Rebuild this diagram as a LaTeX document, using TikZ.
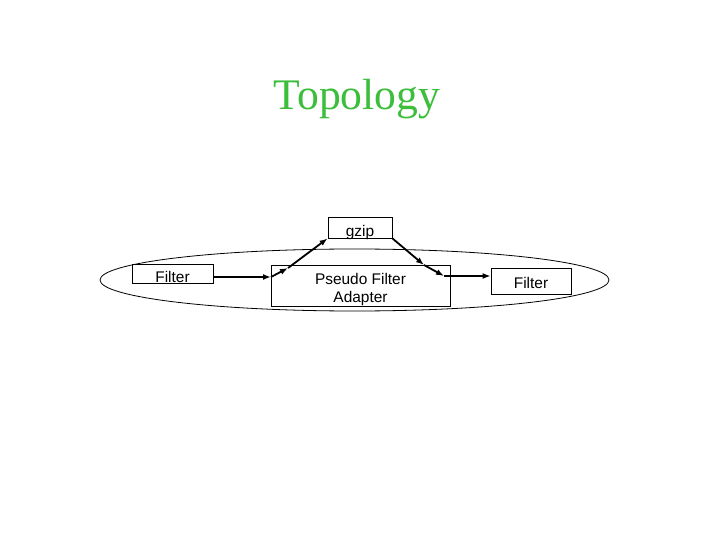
\documentclass[tikz,border=0pt]{standalone}
\usepackage{fontspec}
\setmainfont{Liberation Serif}
\setsansfont{Liberation Sans}
\usetikzlibrary{arrows.meta}
\definecolor{titlegreen}{RGB}{60,190,60}
\tikzset{
  box/.style={draw,line width=0.8bp,inner sep=0pt,align=center,text depth=0pt,font=\sffamily\fontsize{15.5}{18.5}\selectfont},
  flow/.style={line width=1.8bp,-{Latex[length=8bp,width=6bp]}}
}
\begin{document}
\begin{tikzpicture}[x=1bp,y=-1bp]
\useasboundingbox (0,0) rectangle (720,540);
\node[text=titlegreen,font=\fontsize{43.8}{50}\selectfont] (title) at (357,99) {Topology};
\draw[line width=0.8bp] (354.5,280) ellipse [x radius=254.5bp, y radius=31bp];
\node[box,minimum width=81bp,minimum height=19bp,text height=19bp] (src) at (172.5,273.5) {Filter};
\node[box,minimum width=179bp,minimum height=41bp,text height=34bp] (pfa) at (360.5,285.5) {Pseudo Filter\\Adapter};
\node[box,minimum width=64bp,minimum height=21bp,text height=18bp] (gzip) at (360,227.5) {gzip};
\node[box,minimum width=80bp,minimum height=26bp,text height=14bp] (dst) at (531,281) {Filter};
\coordinate (in) at (271,277);
\coordinate (k1) at (288,268);
\coordinate (k2) at (424,265);
\coordinate (out) at (444,276);
\draw[flow] (src.east |- in) -- (in);
\draw[flow] (in) -- (k1);
\draw[flow] (k1) -- (gzip.south west);
\draw[flow] (gzip.south east) -- (k2);
\draw[flow] (k2) -- (out);
\draw[flow] (out) -- (dst.west |- out);
\end{tikzpicture}
\end{document}
